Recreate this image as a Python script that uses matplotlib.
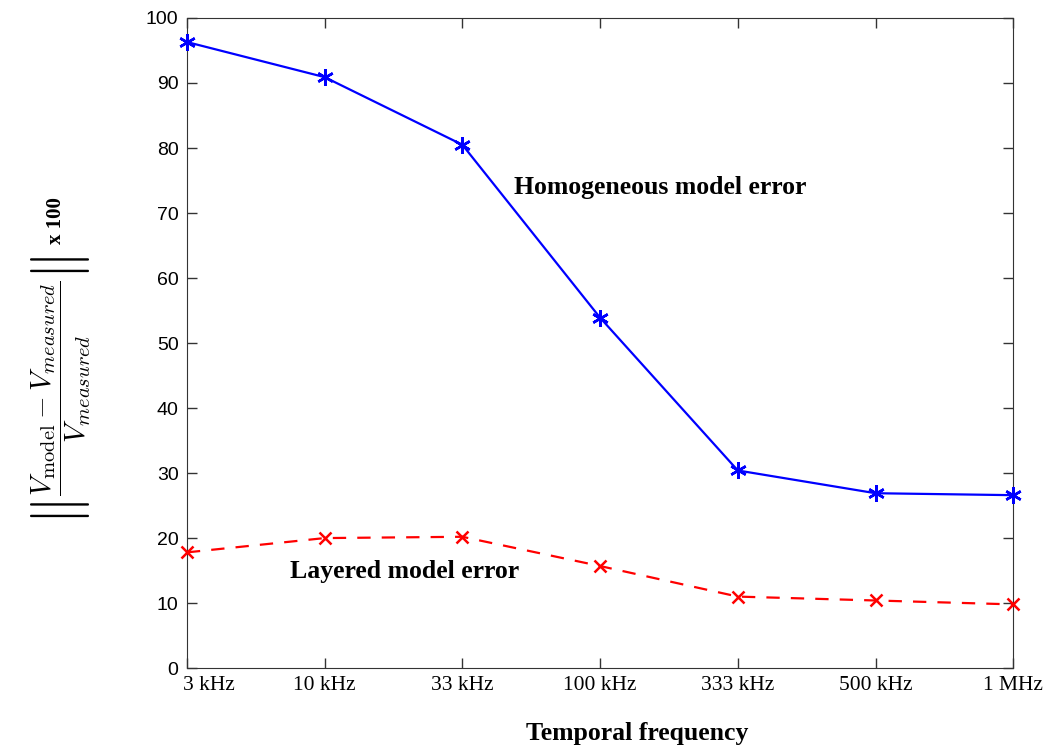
import numpy as np
import matplotlib.pyplot as plt
from matplotlib.transforms import ScaledTranslation

freqs = ['3 kHz', '10 kHz', '33 kHz', '100 kHz', '333 kHz', '500 kHz', '1 MHz']
homogeneous = [96.3, 90.9, 80.5, 53.9, 30.4, 26.9, 26.6]
layered = [17.8, 20.0, 20.2, 15.7, 11.0, 10.4, 9.8]

plt.rcParams['mathtext.fontset'] = 'cm'

fig = plt.figure(figsize=(10.5, 7.49), dpi=100)
ax = fig.add_axes([0.178, 0.108, 0.787, 0.868])

x = np.arange(len(freqs))
ax.plot(x, homogeneous, '-', color='#0000ff', lw=1.6, marker=(6, 2, 0), ms=12, mew=1.8,
        clip_on=False, zorder=3)
ax.plot(x, layered, '--', color='#ff0000', lw=1.6, dashes=(6, 5), marker='x', ms=9, mew=1.8,
        clip_on=False, zorder=3)

ax.set_xlim(0, len(freqs) - 1)
ax.set_ylim(0, 100)
ax.set_yticks(range(0, 101, 10))
ax.set_xticks(x)
ax.set_xticklabels(freqs, family='Liberation Serif', fontsize=15.5)
for lab in ax.get_yticklabels():
    lab.set_family('Liberation Sans')
    lab.set_fontsize(14)
    lab.set_color('#222222')
ax.tick_params(direction='in', top=True, right=True, length=7, width=1, colors='#333333',
               labelcolor='black')
ax.tick_params(axis='x', pad=6)
ax.tick_params(axis='y', pad=6)
for s in ax.spines.values():
    s.set_color('#333333')

# first label sits clear of the "0" like in the original
first = ax.get_xticklabels()[0]
first.set_transform(first.get_transform() + ScaledTranslation(0.22, 0, fig.dpi_scale_trans))

ax.text(3.44, 74, 'Homogeneous model error', family='Liberation Serif', weight='bold',
        fontsize=18.5, ha='center', va='center')
ax.text(1.58, 14.8, 'Layered model error', family='Liberation Serif', weight='bold',
        fontsize=18.5, ha='center', va='center')

ax.set_xlabel('Temporal frequency', family='Liberation Serif', weight='bold', fontsize=18.5,
              labelpad=14)
ax.xaxis.set_label_coords(0.545, -0.083)

fig.text(0.059, 0.479,
         r'$\left\Vert\dfrac{V_{\mathrm{model}}-V_{measured}}{V_{measured}}\right\Vert$',
         rotation=90, ha='center', va='center', fontsize=21)
fig.text(0.053, 0.705, 'x 100', family='Liberation Serif', weight='bold', fontsize=15,
         rotation=90, ha='center', va='center')

fig.savefig('out.png')
